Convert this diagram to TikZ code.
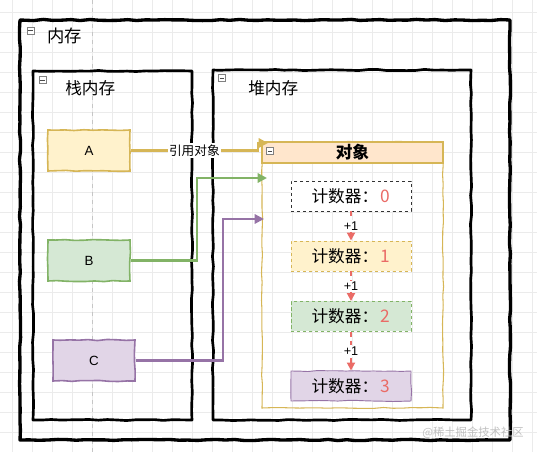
\documentclass[tikz,border=0pt]{standalone}
\usepackage{fontspec}
\setmainfont{Liberation Sans}
\newfontfamily\cjk{Noto Sans CJK SC}
\usetikzlibrary{arrows.meta,decorations.pathmorphing}

\definecolor{yfill}{RGB}{255,242,204}
\definecolor{ydraw}{RGB}{214,182,86}
\definecolor{gfill}{RGB}{213,232,212}
\definecolor{gdraw}{RGB}{130,179,102}
\definecolor{pfill}{RGB}{225,213,231}
\definecolor{pdraw}{RGB}{150,115,166}
\definecolor{ofill}{RGB}{255,230,204}
\definecolor{cnt}{RGB}{234,107,102}
\definecolor{gridgray}{RGB}{235,235,235}

\tikzset{
  sketchy/.style={decorate,decoration={random steps,segment length=7pt,amplitude=0.45pt}},
  memframe/.style={draw=black,line width=#1,line join=round,sketchy,inner sep=0pt},
  varbox/.style={line width=1.2pt,sketchy,minimum width=61.5pt,minimum height=30.75pt,inner sep=0pt,font=\fontsize{10}{12}\selectfont},
  counterbox/.style={line width=0.7pt,minimum width=90pt,minimum height=22.5pt,inner sep=0pt,font=\cjk\fontsize{12.5}{14}\selectfont},
  minusicon/.style={draw=gray,fill=white,line width=0.4pt,minimum size=5.5pt,inner sep=0pt,
    path picture={\draw[line width=0.6pt,black!70] ([xshift=1.2pt]path picture bounding box.west) -- ([xshift=-1.2pt]path picture bounding box.east);}},
  refline/.style={line width=1.6pt,-{Triangle[length=7pt,width=7pt]}},
  plusone/.style={draw=cnt,line width=1.4pt,dash pattern={on 3.5pt off 3pt},-{Triangle[length=6pt,width=6pt,fill=cnt]}},
  steplabel/.style={fill=white,inner sep=1pt,font=\fontsize{9.5}{11}\selectfont,text=black}
}

\begin{document}
\begin{tikzpicture}[x=0.75pt,y=0.75pt,yscale=-1,xscale=1]
\pgfmathsetseed{7}
\useasboundingbox (0,0) rectangle (537,452);

%Background grid
\foreach \gx in {12,32,...,532}
  \draw[gridgray,line width=0.4pt] (\gx,0) -- (\gx,452);
\foreach \gy in {12,32,...,452}
  \draw[gridgray,line width=0.4pt] (0,\gy) -- (537,\gy);
\draw[gray!45,line width=0.4pt,dash pattern={on 3pt off 3pt}] (92,0) -- (92,452);

%Shape: memory frames
\node[memframe=2.5pt,minimum width=367.5pt,minimum height=315pt] (mem) at (265,230) {};
\node[memframe=2pt,minimum width=119.25pt,minimum height=261.75pt] (stack) at (112.5,245.5) {};
\node[memframe=2pt,minimum width=193.5pt,minimum height=262.5pt] (heap) at (342,245) {};

% Text Node
\node[anchor=west,inner sep=0.75pt,font=\cjk\fontsize{13}{15}\selectfont] (memlabel) at (46,36) {内存};
% Text Node
\node[anchor=west,inner sep=0.75pt,font=\cjk\fontsize{12.5}{15}\selectfont] (stacklabel) at (64,88) {栈内存};
% Text Node
\node[anchor=west,inner sep=0.75pt,font=\cjk\fontsize{12.5}{15}\selectfont] (heaplabel) at (247,88) {堆内存};

%Shape: stack variables
\node[varbox,fill=yfill,draw=ydraw] (A) at (89,150.5) {A};
\node[varbox,fill=gfill,draw=gdraw] (B) at (89,260.5) {B};
\node[varbox,fill=pfill,draw=pdraw] (C) at (94,360.5) {C};

%Shape: object container
\node[draw=ydraw,line width=0.8pt,sketchy,minimum width=135.75pt,minimum height=199.5pt,inner sep=0pt] (obj) at (352.5,275) {};
\node[fill=ofill,draw=ydraw,line width=0.8pt,minimum width=135.75pt,minimum height=15.75pt,inner sep=0pt,font=\cjk\bfseries\fontsize{12.5}{14}\selectfont] (objhead) at (352.5,152.5) {对象};

%Shape: counters
\node[counterbox,fill=white,draw=black!80,dash pattern={on 2.5pt off 2pt}] (c0) at (351,196) {计数器：\hspace{2pt}\textcolor{cnt}{\fontsize{13}{14}\selectfont 0}};
\node[counterbox,fill=yfill,draw=ydraw,dash pattern={on 2.5pt off 2pt}] (c1) at (351,256) {计数器：\hspace{2pt}\textcolor{cnt}{\fontsize{13}{14}\selectfont 1}};
\node[counterbox,fill=gfill,draw=gdraw,dash pattern={on 2.5pt off 2pt}] (c2) at (351,316.5) {计数器：\hspace{2pt}\textcolor{cnt}{\fontsize{13}{14}\selectfont 2}};
\node[counterbox,fill=pfill,draw=pdraw,sketchy] (c3) at (351,386) {计数器：\hspace{2pt}\textcolor{cnt}{\fontsize{13}{14}\selectfont 3}};

%Shape: minus icons
\node[minusicon] (icmem) at (30.5,30.5) {};
\node[minusicon] (icstack) at (42.5,80) {};
\node[minusicon] (icheap) at (222,78) {};
\node[minusicon] (icobj) at (270,151) {};

%Straight Lines: references
\coordinate (ain) at (268,143);
\coordinate (bin) at (267,178);
\coordinate (cin) at (264,219);
\draw[refline,ydraw] (A.east) -- node[fill=white,inner sep=1pt,font=\cjk\fontsize{9.5}{11}\selectfont,text=black] (reflabel) {引用对象} (258,150.5) |- (ain);
\draw[refline,gdraw] (B.east) -- ++(66,0) |- (bin);
\draw[refline,pdraw] (C.east) -- ++(87,0) |- (cin);

%Straight Lines: counter steps
\draw[plusone] (c0) -- node[steplabel] (s1) {+1} (c1);
\draw[plusone] (c1) -- node[steplabel] (s2) {+1} (c2);
\draw[plusone] (c2) -- node[steplabel] (s3) {+1} (c3);

% Text Node
\node[inner sep=0.75pt,font=\cjk\fontsize{8.5}{10}\selectfont,text=black!25] (mark) at (473,433) {@稀土掘金技术社区};

\end{tikzpicture}
\end{document}
